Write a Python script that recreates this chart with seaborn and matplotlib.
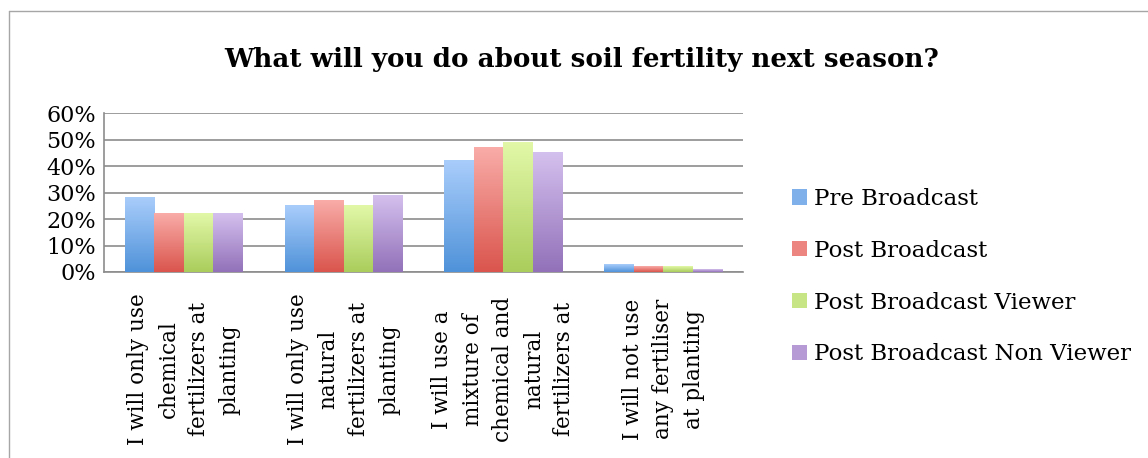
import matplotlib.pyplot as plt
import numpy as np
import pandas as pd
import seaborn as sns
from matplotlib.colors import LinearSegmentedColormap
from matplotlib.ticker import PercentFormatter, MultipleLocator
from matplotlib.lines import Line2D

sns.set_theme(style="white")
plt.rcParams['font.family'] = ['DejaVu Serif']
plt.rcParams['text.color'] = 'black'
plt.rcParams['xtick.color'] = 'black'
plt.rcParams['ytick.color'] = 'black'

# data
categories = [
    "I will only use\nchemical\nfertilizers at\nplanting",
    "I will only use\nnatural\nfertilizers at\nplanting",
    "I will use a\nmixture of\nchemical and\nnatural\nfertilizers at",
    "I will not use\nany fertiliser\nat planting",
]
series = ["Pre Broadcast", "Post Broadcast", "Post Broadcast Viewer",
          "Post Broadcast Non Viewer"]
pre_broadcast = [0.28, 0.25, 0.42, 0.03]
post_broadcast = [0.22, 0.27, 0.47, 0.02]
post_viewer = [0.22, 0.25, 0.49, 0.02]
post_non_viewer = [0.22, 0.29, 0.45, 0.01]

# (top, bottom) gradient colours per series
grad_colors = [("#a9cdfb", "#4f92d9"), ("#f9aca8", "#da554d"),
               ("#e2f8a8", "#aacd5c"), ("#d4c0ee", "#9271b9")]
mid_colors = ["#7fb0ea", "#ec8580", "#c8e585", "#b69ad6"]

rows = []
for name, vals in zip(series, [pre_broadcast, post_broadcast, post_viewer, post_non_viewer]):
    for cat, v in zip(categories, vals):
        rows.append({"category": cat, "series": name, "value": v})
df = pd.DataFrame(rows)

fig = plt.figure(figsize=(11.48, 4.58), dpi=100)
ax = fig.add_axes([104 / 1148, 1 - 272 / 458, (743 - 104) / 1148, (272 - 113) / 458])

sns.barplot(data=df, x="category", y="value", hue="series", palette=mid_colors,
            width=0.74, gap=0, ax=ax, legend=False, zorder=2)

# gradient fill for each bar
for cont, (top, bot) in zip(ax.containers, grad_colors):
    cmap = LinearSegmentedColormap.from_list("g", [bot, top])
    for p in cont.patches:
        x, w, h = p.get_x(), p.get_width(), p.get_height()
        ax.imshow(np.linspace(0, 1, 128).reshape(-1, 1), extent=[x, x + w, 0, h],
                  origin="lower", cmap=cmap, aspect="auto", zorder=3)
        p.set_facecolor("none")
        p.set_edgecolor("none")

ax.set_xlim(-0.5, 3.5)
ax.set_ylim(0, 0.6)
ax.yaxis.set_major_locator(MultipleLocator(0.1))
ax.yaxis.set_major_formatter(PercentFormatter(1.0, decimals=0))
ax.grid(axis="y", color="#8c8c8c", linewidth=1.2, zorder=1)
ax.set_axisbelow(True)
for s in ["top", "right"]:
    ax.spines[s].set_visible(False)
for s in ["left", "bottom"]:
    ax.spines[s].set_color("#8c8c8c")
    ax.spines[s].set_linewidth(1.2)
ax.set_xlabel("")
ax.set_ylabel("")
ax.tick_params(axis="y", length=0, labelsize=16, pad=6, labelcolor="black")
ax.set_xticks(range(len(categories)))
ax.set_xticklabels(categories, rotation=90, ha="center", va="center",
                   multialignment="center", linespacing=1.5, fontsize=15.5, color="black")
ax.tick_params(axis="x", length=0, pad=70)

fig.text(582 / 1148, 1 - 60 / 458, "What will you do about soil fertility next season?",
         ha="center", va="center", fontsize=18.8, fontweight="bold", color="black")

handles = [plt.Rectangle((0, 0), 1, 1, facecolor=c, edgecolor="none") for c in mid_colors]
fig.legend(handles, series, loc="upper left", bbox_to_anchor=(792 / 1148, 1 - 188 / 458),
           frameon=False, fontsize=16.5, handlelength=0.65, handleheight=0.65,
           handletextpad=0.3, labelspacing=1.3, borderpad=0, borderaxespad=0,
           labelcolor="black")

# outer chart border
fig.add_artist(Line2D([8.5 / 1148, 8.5 / 1148], [0, 1 - 11 / 458], transform=fig.transFigure,
                      color="#a6a6a6", linewidth=1))
fig.add_artist(Line2D([8.5 / 1148, 1], [1 - 11 / 458, 1 - 11 / 458], transform=fig.transFigure,
                      color="#a6a6a6", linewidth=1))

fig.savefig("out.png", dpi=100)
